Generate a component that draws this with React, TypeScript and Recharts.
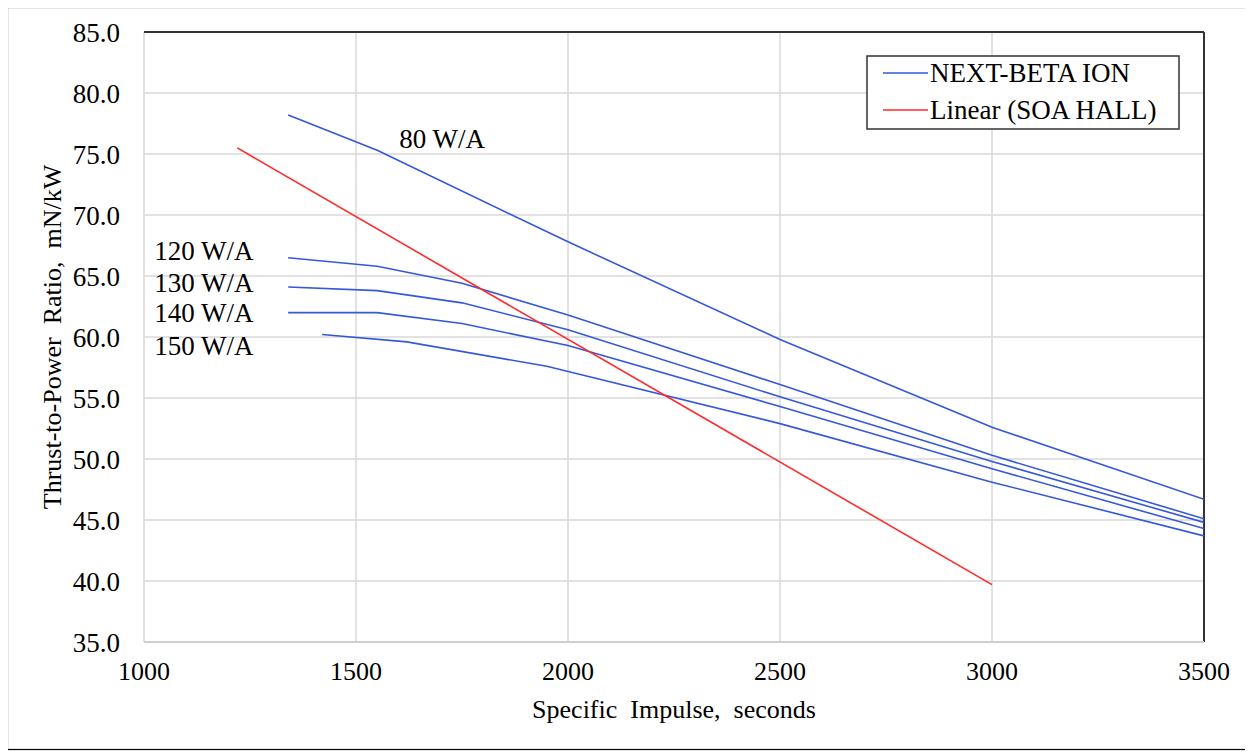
import React from 'react';
import { LineChart, Line, XAxis, YAxis, CartesianGrid, ReferenceLine, ReferenceDot } from 'recharts';

const xTicks = [1000, 1500, 2000, 2500, 3000, 3500];
const yTicks = [35, 40, 45, 50, 55, 60, 65, 70, 75, 80, 85];

const ion80 = [
  { x: 1340, y: 78.2 }, { x: 1550, y: 75.3 }, { x: 2000, y: 67.8 },
  { x: 2500, y: 59.8 }, { x: 3000, y: 52.6 }, { x: 3500, y: 46.7 },
];
const ion120 = [
  { x: 1340, y: 66.5 }, { x: 1550, y: 65.8 }, { x: 1750, y: 64.4 }, { x: 2000, y: 61.8 },
  { x: 2500, y: 56.1 }, { x: 3000, y: 50.3 }, { x: 3500, y: 45.1 },
];
const ion130 = [
  { x: 1340, y: 64.1 }, { x: 1550, y: 63.8 }, { x: 1750, y: 62.8 }, { x: 2000, y: 60.6 },
  { x: 2500, y: 55.1 }, { x: 3000, y: 49.8 }, { x: 3500, y: 44.8 },
];
const ion140 = [
  { x: 1340, y: 62.0 }, { x: 1550, y: 62.0 }, { x: 1750, y: 61.1 }, { x: 2000, y: 59.3 },
  { x: 2500, y: 54.3 }, { x: 3000, y: 49.2 }, { x: 3500, y: 44.3 },
];
const ion150 = [
  { x: 1420, y: 60.2 }, { x: 1620, y: 59.6 }, { x: 1950, y: 57.6 },
  { x: 2500, y: 52.9 }, { x: 3000, y: 48.1 }, { x: 3500, y: 43.7 },
];
const soaHall = [{ x: 1220, y: 75.5 }, { x: 3000, y: 39.7 }];

const curveLabels = [
  { text: '80 W/A', x: 1703, y: 76.3 },
  { text: '120 W/A', x: 1141, y: 67.1 },
  { text: '130 W/A', x: 1141, y: 64.5 },
  { text: '140 W/A', x: 1141, y: 62.0 },
  { text: '150 W/A', x: 1141, y: 59.3 },
];

const legendItems = ['NEXT-BETA ION', 'Linear (SOA HALL)'];

const ionSeries = [ion80, ion120, ion130, ion140, ion150];

const BLUE = '#3458dc';
const RED = '#ff2a2a';
const FONT = '"Liberation Serif", "Times New Roman", serif';
const legendColors = [BLUE, RED];

const LegendBox = () => (
  <svg
    width={316}
    height={76}
    style={{ position: 'absolute', left: 866, top: 55, overflow: 'visible' }}
  >
    <rect x={1} y={1} width={312} height={73} fill="#fff" stroke="#333" strokeWidth={1.5} />
    {legendItems.map((name, i) => (
      <g key={name}>
        <line x1={17} x2={62} y1={18 + i * 37} y2={18 + i * 37} stroke={legendColors[i]} strokeWidth={1.6} />
        <text x={64} y={18 + i * 37} dy="0.35em" fontFamily={FONT} fontSize={27} fill="#000">
          {name}
        </text>
      </g>
    ))}
  </svg>
);

export default function App() {
  return (
    <div style={{ position: 'relative', width: 1253, height: 752, margin: '-8px 0 0 -8px', background: '#fff' }}>
      <div style={{ position: 'absolute', left: 0, top: 0 }}>
        <LineChart
          width={1253}
          height={752}
          margin={{ top: 32, right: 49, bottom: 30, left: 0 }}
          style={{ fontFamily: FONT }}
        >
          <CartesianGrid stroke="#d9d9d9" strokeWidth={1.5} />
          <XAxis
            type="number"
            dataKey="x"
            domain={[1000, 3500]}
            ticks={xTicks}
            allowDataOverflow
            height={80}
            tickSize={0}
            tickMargin={20}
            axisLine={{ stroke: '#cfcfcf', strokeWidth: 2 }}
            tick={{ fill: '#000', fontSize: 26, fontFamily: FONT }}
            label={{
              value: 'Specific\u00a0 Impulse,\u00a0 seconds',
              position: 'insideBottom',
              offset: 4,
              fill: '#000',
              fontSize: 26,
              fontFamily: FONT,
            }}
          />
          <YAxis
            type="number"
            dataKey="y"
            domain={[35, 85]}
            ticks={yTicks}
            allowDataOverflow
            width={144}
            tickSize={0}
            tickMargin={24}
            axisLine={false}
            tickFormatter={(v: number) => v.toFixed(1)}
            tick={{ fill: '#000', fontSize: 27, fontFamily: FONT }}
            label={{
              value: 'Thrust-to-Power\u00a0 Ratio,\u00a0 mN/kW',
              angle: -90,
              position: 'insideLeft',
              offset: 52,
              fill: '#000',
              fontSize: 26,
              fontFamily: FONT,
              style: { textAnchor: 'middle' },
            }}
          />
          <ReferenceLine y={85} stroke="#333" strokeWidth={2} ifOverflow="visible" />
          <ReferenceLine x={3500} stroke="#333" strokeWidth={2} ifOverflow="visible" />
          {ionSeries.map((d, i) => (
            <Line
              key={i}
              data={d}
              dataKey="y"
              type="linear"
              stroke={BLUE}
              strokeWidth={1.6}
              dot={false}
              isAnimationActive={false}
              legendType="none"
            />
          ))}
          <Line
            data={soaHall}
            dataKey="y"
            type="linear"
            stroke={RED}
            strokeWidth={1.6}
            dot={false}
            isAnimationActive={false}
            legendType="none"
          />
          {curveLabels.map((l) => (
            <ReferenceDot
              key={l.text}
              x={l.x}
              y={l.y}
              r={0}
              fill="none"
              stroke="none"
              label={{ value: l.text, position: 'center', fill: '#000', fontSize: 27, fontFamily: FONT }}
            />
          ))}
        </LineChart>
      </div>
      <LegendBox />
      <svg
        width={1253}
        height={752}
        style={{ position: 'absolute', left: 0, top: 0, pointerEvents: 'none' }}
      >
        <rect x={7.5} y={7.5} width={1242} height={742} fill="none" stroke="#000" strokeWidth={1.2} />
      </svg>
    </div>
  );
}
